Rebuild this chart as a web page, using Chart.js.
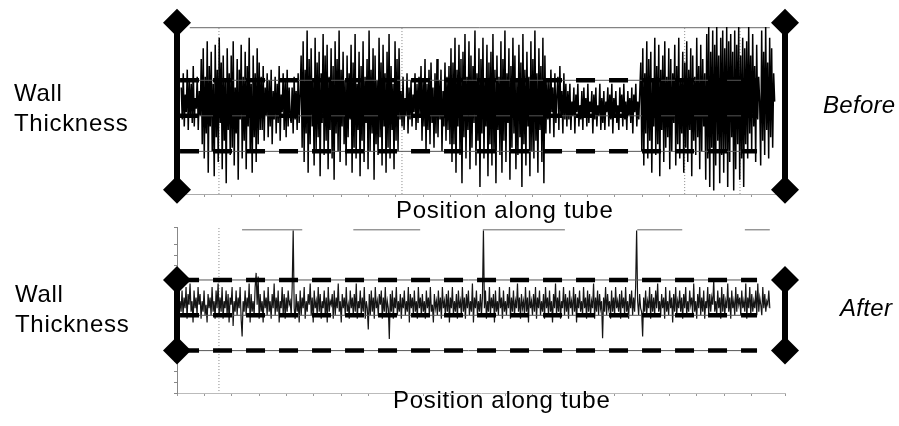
<!DOCTYPE html>
<html><head><meta charset="utf-8">
<script src="https://cdn.jsdelivr.net/npm/chart.js@4/dist/chart.umd.min.js"></script>
<style>
body{margin:0;background:#fff;width:899px;height:426px;overflow:hidden;position:relative;font-family:"Liberation Sans",Arial,Helvetica,sans-serif;}
canvas{position:absolute;left:0;}
.t{position:absolute;font-size:24px;line-height:30px;color:#000;letter-spacing:0.7px;white-space:nowrap;}
.i{font-style:italic;letter-spacing:0.3px;}
</style></head><body>
<canvas id="c1" width="899" height="213" style="top:0"></canvas>
<canvas id="c2" width="899" height="213" style="top:213px"></canvas>
<div class="t" style="left:14px;top:78px">Wall<br>Thickness</div>
<div class="t i" style="left:823px;top:90px">Before</div>
<div class="t" style="left:396px;top:195px">Position along tube</div>
<div class="t" style="left:15px;top:279px">Wall<br>Thickness</div>
<div class="t i" style="left:840px;top:293px">After</div>
<div class="t" style="left:393px;top:385px">Position along tube</div>
<script>
// ---- data (position along tube: 0..1000, wall thickness: % of nominal) ----
const POSITION_MIN = 0, POSITION_MAX = 1000;
const THICKNESS_MIN = 78, THICKNESS_MAX = 125;
const TOLERANCE_LEVELS = [110, 100, 90];
const TOLERANCE_FROM = 5, TOLERANCE_TO = 954;

const BEFORE_FROM = 7, BEFORE_TO = 983;
const BEFORE_SPREAD = [126.2, 79.2];
const BEFORE_GUIDES = [69, 370, 835, 926];
const BEFORE_EDGE = [[21, 975]];
const BEFORE_EDGE_LEVEL = 124.8;
const beforeThickness = [
108,99,112,97,106,101,113,96,110,100,109,98,114,97,105,102,111,96,107,100,
116,92,119,88,111,95,121,84,114,97,118,90,109,83,120,94,113,87,122,98,
115,85,117,93,110,81,119,96,112,89,117,91,121,86,108,95,116,82,113,99,
120,88,111,93,118,85,114,97,122,90,109,84,117,94,112,87,119,92,115,96,
111,96,114,93,108,100,112,94,110,97,113,92,107,99,111,95,109,98,114,93,
106,101,112,96,110,94,113,97,108,100,
98,108,95,111,99,107,96,112,98,106,
117,91,121,87,113,95,124,84,116,92,119,97,110,86,122,90,115,94,118,83,
112,98,123,89,117,93,120,85,111,96,119,88,114,82,121,95,116,90,124,87,
113,97,118,92,110,86,117,94,112,99,120,84,115,91,123,88,109,96,118,83,
114,93,121,87,111,98,116,85,124,90,113,95,119,82,117,92,110,89,122,94,
115,86,120,97,112,84,118,91,123,88,114,96,109,85,121,93,116,90,119,99,
107,97,111,96,105,100,112,95,108,99,110,97,106,101,112,96,109,98,111,100,
114,93,110,97,116,90,109,96,113,92,115,98,108,91,112,95,116,94,110,99,
113,90,107,97,115,93,111,96,114,92,
119,87,115,92,122,84,113,97,120,89,116,81,118,94,123,88,111,96,121,85,
117,91,114,98,124,86,112,93,119,80,116,95,122,88,110,97,120,83,115,92,
118,86,123,90,113,81,117,96,111,89,121,84,116,93,124,87,112,98,119,82,
114,91,122,95,117,85,110,89,120,94,115,80,123,92,113,86,118,97,111,83,
121,90,116,88,124,93,112,84,119,96,114,87,122,81,117,95,110,
99,110,95,113,101,108,94,112,98,106,111,96,114,100,107,95,112,99,109,97,
107,99,109,96,104,100,108,95,106,101,109,97,103,99,107,96,108,100,105,97,
109,98,104,101,107,95,106,99,108,97,103,100,109,96,105,98,107,96,104,101,
108,97,106,99,109,95,105,100,107,98,103,96,108,101,106,97,109,99,104,96,
107,100,105,98,108,95,106,101,109,97,104,99,107,
115,90,119,86,112,95,121,88,116,93,118,84,110,97,122,89,114,92,120,83,
113,96,117,87,121,91,111,94,119,85,116,90,112,98,120,86,114,92,122,88,
110,95,118,84,115,91,121,87,113,96,119,83,117,93,111,89,122,94,114,85,
120,90,116,97,112,
82,123,88,125,80,118,91,124,79,120,86,125,93,117,81,122,89,124,84,119,
90,125,80,121,87,123,94,118,79,124,85,120,92,125,82,117,88,122,80,119,
92,121,88,125,95,117,90,123,97,114,87,120,99,111,104,86,124,93,118,89,
125,96,115,88,122,94,119,91,112,104
];

const AFTER_FROM = 5, AFTER_TO = 975;
const AFTER_SPREAD = [110, 90];
const AFTER_GUIDES = [69];
const AFTER_EDGE = [[107, 206], [290, 400], [503, 638], [757, 831], [934, 975]];
const AFTER_EDGE_LEVEL = 124.2;
const afterThickness = [
104,101,107,100,105,102,108,99,106,103,109,101,104,98,107,102,105,100,108,103,
106,99,104,101,107,100,103,98,106,102,105,100,108,101,104,99,107,102,109,100,
105,101,108,99,104,102,107,100,106,98,105,103,108,97,104,101,107,100,105,102,
108,99,94,104,101,107,100,105,102,109,98,106,101,104,100,108,112,103,111,99,
106,101,104,98,107,102,105,100,108,101,104,99,106,102,109,100,105,101,107,98,
104,102,108,100,106,99,105,101,107,103,104,100,108,124,102,99,106,101,104,98,
107,100,105,102,108,99,104,101,106,103,109,100,105,98,107,102,104,100,108,101,
106,99,104,102,107,100,105,98,108,101,104,103,106,99,107,100,105,102,109,101,
104,98,106,102,105,100,108,101,103,99,107,102,105,100,106,101,109,99,104,102,
107,100,105,101,108,99,104,102,96,106,100,107,101,105,99,108,102,104,100,106,
103,107,99,105,101,108,100,104,102,93.3,106,101,107,99,105,102,108,100,104,101,
106,99,105,102,107,100,104,101,108,98,106,102,105,100,107,101,104,99,108,102,
105,100,106,101,104,99,107,102,105,100,108,101,103,98,106,102,104,100,107,101,
105,99,108,102,104,100,106,101,107,98,105,102,108,100,104,101,106,99,107,102,
104,100,108,101,105,99,106,102,107,100,104,101,109,98,105,102,107,100,104,101,
106,100,105,124,102,107,99,104,101,108,100,105,102,106,98,107,101,104,100,108,
102,105,99,107,101,104,100,106,102,108,99,105,101,107,100,104,102,109,101,105,
99,106,102,104,100,108,101,105,98,107,102,104,100,106,101,108,99,105,102,107,
100,104,101,106,99,108,102,105,100,107,101,104,98,106,102,109,100,105,101,107,
99,104,102,108,100,106,101,105,99,107,102,104,100,108,101,106,98,105,102,107,
101,104,100,108,102,105,99,107,101,106,100,104,102,109,99,105,101,107,100,106,
102,104,93.5,105,101,108,100,106,102,104,99,107,101,105,100,108,102,104,101,106,
99,107,102,105,100,108,101,104,99,106,102,107,100,105,101,108,124,104,100,106,
102,101,94,105,101,107,100,104,102,108,99,106,101,105,100,107,102,109,101,104,
100,106,102,105,99,108,101,104,100,107,102,105,98,106,101,108,100,104,102,107,
101,105,99,106,102,108,100,104,101,107,103,105,100,109,101,104,99,106,102,108,
100,105,101,107,99,104,102,108,100,106,101,105,103,110,101,104,100,107,102,105,
99,108,101,106,100,104,102,109,101,105,99,107,102,104,100,108,101,106,103,105,
100,107,102,104,101,109,99,105,102,108,100,106,101,104,102,107,100,109,101,105,
103,100,108,102,106,101,104,103,107,102
];

// ---- chart construction ----
function series(values, from, to) {
  const step = (to - from) / (values.length - 1);
  return values.map((v, i) => ({x: from + i * step, y: v}));
}
function segments(list, level) {
  const out = [];
  list.forEach(([a, b]) => { out.push({x: a, y: level}, {x: b, y: level}, {x: (a + b) / 2, y: null}); });
  return out;
}
function build(id, cfg) {
  const ds = [];
  [POSITION_MIN, POSITION_MAX].forEach(px => {
    ds.push({data: cfg.spread.map(v => ({x: px, y: v})), borderColor: '#000', borderWidth: 6,
      borderCapStyle: 'butt', pointStyle: 'rectRot', pointRadius: 14, pointBackgroundColor: '#000',
      pointBorderWidth: 0, order: 1, clip: false});
  });
  TOLERANCE_LEVELS.forEach(v => {
    const d = [{x: TOLERANCE_FROM, y: v}, {x: TOLERANCE_TO, y: v}];
    ds.push({data: d, borderColor: '#000', borderWidth: 4.5, borderDash: [19, 14], borderCapStyle: 'butt', pointRadius: 0, order: 5, clip: false});
    ds.push({data: d.map(p => ({...p})), borderColor: '#555', borderWidth: 1, pointRadius: 0, order: 6, clip: false});
  });
  ds.push({data: series(cfg.values, cfg.from, cfg.to), borderColor: cfg.color, borderWidth: cfg.width, pointRadius: 0, order: 10, clip: false});
  cfg.guides.forEach(g => {
    ds.push({data: [{x: g, y: THICKNESS_MAX - 0.3}, {x: g, y: THICKNESS_MIN}], borderColor: '#888', borderWidth: 1, borderDash: [1, 2], pointRadius: 0, order: 12});
  });
  ds.push({data: segments(cfg.edge, cfg.edgeLevel), borderColor: '#666', borderWidth: 1, pointRadius: 0, spanGaps: false, order: 12});
  return new Chart(document.getElementById(id), {
    type: 'line',
    data: {datasets: ds},
    options: {
      responsive: false, animation: false, devicePixelRatio: 1,
      layout: {padding: cfg.padding},
      plugins: {legend: {display: false}, tooltip: {enabled: false}},
      elements: {line: {tension: 0}},
      scales: {
        x: {type: 'linear', min: POSITION_MIN, max: POSITION_MAX,
          ticks: {display: false, stepSize: 45},
          grid: {drawOnChartArea: false, tickLength: 3, color: '#999'},
          border: {display: true, color: cfg.xBorder, dash: [2, 2]}},
        y: {type: 'linear', min: THICKNESS_MIN, max: THICKNESS_MAX, display: cfg.yAxis,
          ticks: {display: false, stepSize: 3},
          grid: {drawOnChartArea: false, tickLength: 3, color: '#888'},
          border: {display: true, color: '#888'}}
      }
    }
  });
}
build('c1', {values: beforeThickness, from: BEFORE_FROM, to: BEFORE_TO, spread: BEFORE_SPREAD,
  guides: BEFORE_GUIDES, edge: BEFORE_EDGE, edgeLevel: BEFORE_EDGE_LEVEL, color: '#000', width: 1.5,
  padding: {left: 177, right: 114, top: 27, bottom: 16}, xBorder: '#aaa', yAxis: false});
build('c2', {values: afterThickness, from: AFTER_FROM, to: AFTER_TO, spread: AFTER_SPREAD,
  guides: AFTER_GUIDES, edge: AFTER_EDGE, edgeLevel: AFTER_EDGE_LEVEL, color: '#151515', width: 1.2,
  padding: {left: 174, right: 114, top: 11, bottom: 30}, xBorder: '#bbb', yAxis: true});
</script>
</body></html>
